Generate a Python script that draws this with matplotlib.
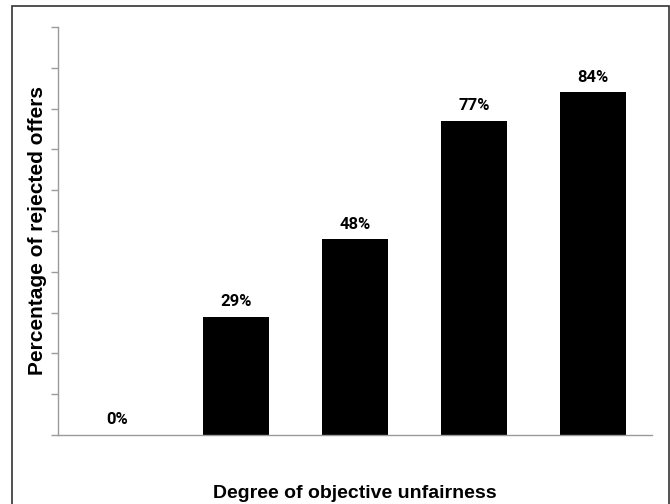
import matplotlib
matplotlib.use("Agg")
import matplotlib.pyplot as plt
from matplotlib.patches import Rectangle

categories = ["1", "2", "3", "4", "5"]
values = [0, 29, 48, 77, 84]
labels = ["0%", "29%", "48%", "77%", "84%"]

W, H = 670, 504
fig = plt.figure(figsize=(W / 100, H / 100), dpi=100)
fig.patch.set_facecolor("white")

# outer border
fig.patches.append(Rectangle((12 / W, -0.05), (669 - 12) / W, (504 - 6) / H + 0.05,
                             transform=fig.transFigure, fill=False,
                             edgecolor="#333333", linewidth=1.2))

ax = fig.add_axes([58 / W, (H - 435) / H, (652 - 58) / W, (435 - 27) / H])
x = list(range(len(categories)))
ax.bar(x, values, width=0.555, color="black")
ax.set_xlim(-0.5, len(categories) - 0.5)
ax.set_ylim(0, 100)
ax.set_yticks(range(0, 101, 10))
ax.set_yticklabels([])
ax.set_xticks([])
for s in ["top", "right"]:
    ax.spines[s].set_visible(False)
for s in ["left", "bottom"]:
    ax.spines[s].set_color("#9a9a9a")
    ax.spines[s].set_linewidth(1.0)
ax.tick_params(axis="y", direction="out", length=5, color="#9a9a9a", width=1)

for xi, v, lab in zip(x, values, labels):
    ax.annotate(lab, (xi, v), xytext=(0, 5.5), textcoords="offset points",
                ha="center", va="bottom", fontsize=12, fontweight="bold",
                family=["Roboto", "DejaVu Sans"])

fig.text(38 / W, 1 - 231 / H, "Percentage of rejected offers", rotation=90,
         ha="center", va="center", fontsize=15, fontweight="bold",
         family=["Liberation Sans", "DejaVu Sans"])
fig.text(355 / W, 1 - 493 / H, "Degree of objective unfairness",
         ha="center", va="center", fontsize=14, fontweight="bold",
         family=["Liberation Sans", "DejaVu Sans"])

fig.savefig("out.png", dpi=100)
